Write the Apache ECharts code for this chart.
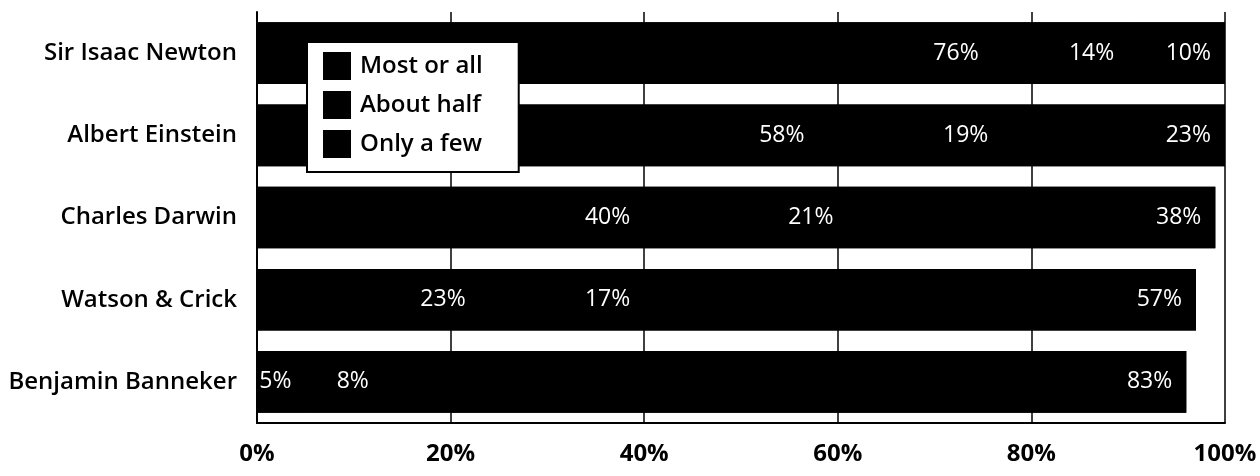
<!DOCTYPE html>
<html>
<head>
<meta charset="utf-8">
<script src="https://cdn.jsdelivr.net/npm/echarts@6/dist/echarts.min.js"></script>
<style>
html,body{margin:0;padding:0;background:#fff;}
#c{width:1260px;height:476px;}
</style>
</head>
<body>
<div id="c"></div>
<script>
const categories = ['Sir Isaac Newton', 'Albert Einstein', 'Charles Darwin', 'Watson & Crick', 'Benjamin Banneker'];
const seriesNames = ['Most or all', 'About half', 'Only a few'];
const mostOrAll = [76, 58, 40, 23, 5];
const aboutHalf = [14, 19, 21, 17, 8];
const onlyAFew = [10, 23, 38, 57, 83];
const tickValues = [0, 20, 40, 60, 80, 100];

const chart = echarts.init(document.getElementById('c'));
const seriesData = [mostOrAll, aboutHalf, onlyAFew];
const totals = categories.map((c, i) => mostOrAll[i] + aboutHalf[i] + onlyAFew[i]);

const stackSeries = seriesNames.map((name, i) => ({
  name: name,
  type: 'bar',
  stack: 'total',
  barWidth: '75%',
  barGap: '-100%',
  z: 3,
  data: seriesData[i],
  itemStyle: { color: '#000' },
  label: {
    show: true,
    position: 'insideRight',
    distance: 14,
    formatter: p => p.value + '%',
    color: '#fff',
    fontFamily: 'Open Sans',
    fontWeight: 'normal',
    fontSize: 23
  }
}));

chart.setOption({
  backgroundColor: '#fff',
  animation: false,
  grid: { left: 257, right: 35, top: 12, bottom: 53, containLabel: false },
  legend: {
    data: seriesNames,
    orient: 'vertical',
    left: 307,
    top: 42,
    icon: 'rect',
    itemWidth: 28,
    itemHeight: 28,
    itemGap: 11,
    padding: [10, 36, 14, 16],
    backgroundColor: '#fff',
    borderColor: '#000',
    borderWidth: 2,
    textStyle: { fontFamily: 'Open Sans', fontSize: 24, color: '#000', fontWeight: 600, padding: [0, 0, 0, 4] },
    itemStyle: { color: '#000' },
    z: 10
  },
  xAxis: {
    type: 'value',
    min: 0,
    max: 100,
    interval: 20,
    axisLine: { show: true, lineStyle: { color: '#000', width: 2 } },
    axisTick: { show: false },
    axisLabel: {
      formatter: v => v + '%',
      fontFamily: 'Open Sans', fontWeight: 'bold', fontSize: 24, color: '#000', margin: 19
    },
    splitLine: { show: true, lineStyle: { color: '#000', width: 1.5 } }
  },
  yAxis: {
    type: 'category',
    data: categories,
    inverse: true,
    axisLine: { show: true, lineStyle: { color: '#000', width: 2 } },
    axisTick: { show: false },
    axisLabel: { fontFamily: 'Open Sans', fontWeight: 600, fontSize: 24, color: '#000', margin: 20 }
  },
  series: [{
    name: 'background',
    type: 'bar',
    barWidth: '75%',
    barGap: '-100%',
    z: 2,
    silent: true,
    data: totals,
    itemStyle: { color: '#000' },
    label: { show: false }
  }].concat(stackSeries)
});
</script>
</body>
</html>
